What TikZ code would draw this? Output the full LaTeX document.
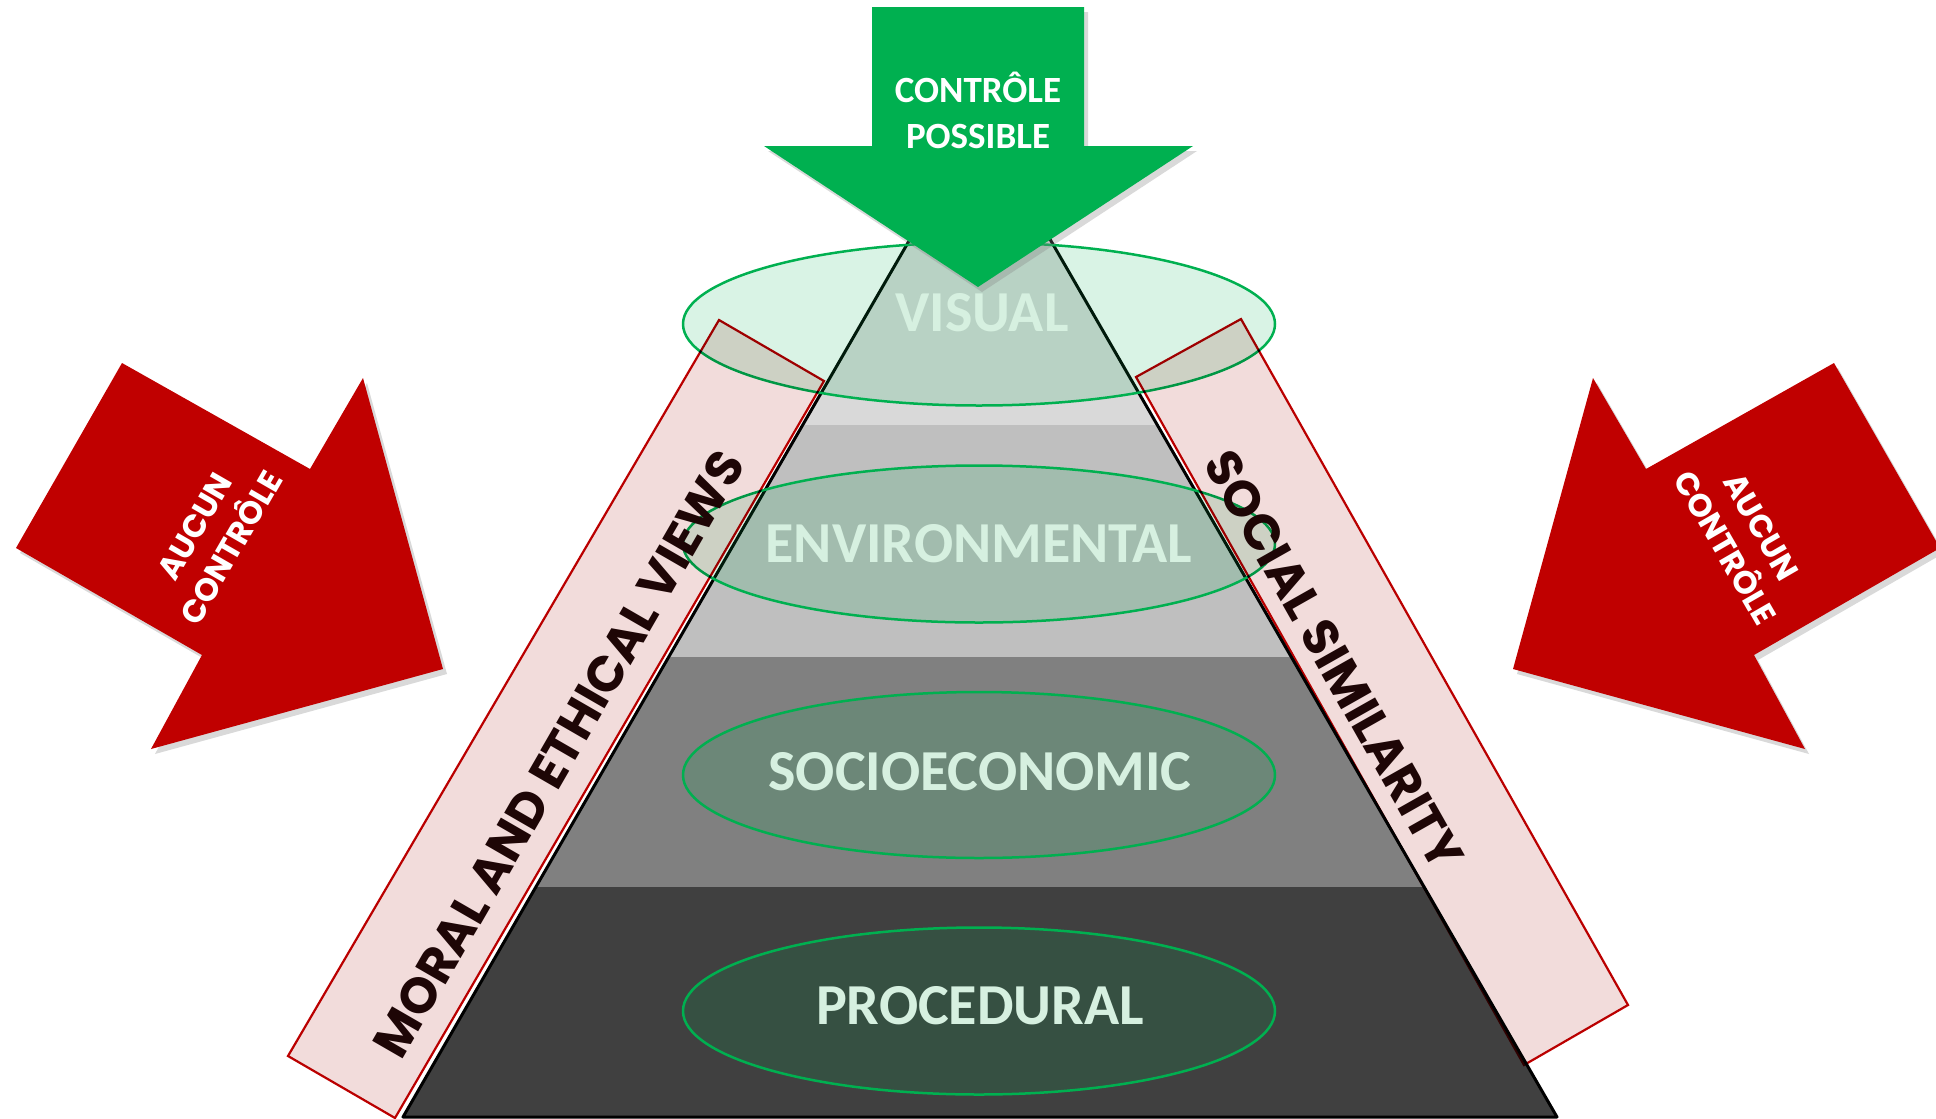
\documentclass[tikz,border=0pt]{standalone}
\usepackage{fontspec}
\setmainfont{Carlito}
\newfontfamily\geofont{Poppins}
\usetikzlibrary{calc, shadows, shapes.geometric}

\definecolor{possgreen}{RGB}{0,176,80}
\definecolor{nored}{RGB}{192,0,0}
\definecolor{boxpink}{RGB}{242,220,219}
\definecolor{mint}{RGB}{214,240,224}
\definecolor{ink}{RGB}{30,6,6}

\begin{document}
\begin{tikzpicture}[x=1pt, y=-1pt,
    zone/.style={ellipse, draw=possgreen, line width=2.5pt, fill=possgreen, fill opacity=0.15, minimum width=592pt, minimum height=163pt, inner sep=0pt},
    level/.style={text=mint, font=\fontsize{58}{60}\selectfont\bfseries, inner sep=0pt},
    sidebox/.style={draw=nored, line width=2.2pt, fill=boxpink},
    sidetext/.style={text=ink, font=\geofont\fontsize{50}{52}\selectfont\bfseries, inner sep=0pt},
    noarrow/.style={fill=nored, drop shadow={shadow xshift=4pt, shadow yshift=-5pt, opacity=0.3}},
    notext/.style={text=white, align=center, font=\geofont\fontsize{32}{42}\selectfont\bfseries, inner sep=0pt},
    yesarrow/.style={fill=possgreen, drop shadow={shadow xshift=4pt, shadow yshift=-5pt, opacity=0.3}},
    yestext/.style={text=white, align=center, font=\fontsize{37}{46}\selectfont\bfseries, inner sep=0pt}]

    \useasboundingbox (0,0) rectangle (1936,1119);

    \fill[noarrow] (122,363) -- (310,469) -- (363,378) -- (443,669) -- (151,749) -- (202,655) -- (16,548) -- cycle;
    \fill[noarrow] (1834,363) -- (1646,469) -- (1593,378) -- (1513,669) -- (1805,749) -- (1754,655) -- (1940,548) -- cycle;
    \node[notext, rotate=60] (noleft) at (213,537) {AUCUN\\CONTRÔLE};
    \node[notext, rotate=-60] (noright) at (1743,537) {AUCUN\\CONTRÔLE};

    \coordinate (apex) at (980,118);
    \coordinate (bl) at (403,1117);
    \coordinate (br) at (1557,1117);
    \begin{scope}
        \clip (apex) -- (bl) -- (br) -- cycle;
        \fill[black!15] (380,100) rectangle (1580,425);
        \fill[black!25] (380,425) rectangle (1580,657);
        \fill[black!50] (380,657) rectangle (1580,887);
        \fill[black!75] (380,887) rectangle (1580,1120);
    \end{scope}
    \draw[line width=3pt, line join=round] (apex) -- (bl) -- (br) -- cycle;

    \node[zone] (visualzone) at (979,324) {};
    \node[zone, minimum height=157pt] (envzone) at (979,544) {};
    \node[zone, minimum height=166pt] (sociozone) at (979,775) {};
    \node[zone, minimum height=167pt] (proczone) at (979,1011) {};

    \node[level] (visual) at (982,313) {VISUAL};
    \node[level] (env) at (979,544) {ENVIRONMENTAL};
    \node[level] (socio) at (980,772) {SOCIOECONOMIC};
    \node[level] (proc) at (980,1006) {PROCEDURAL};

    \begin{scope}[blend mode=multiply]
        \draw[sidebox] (719,320) -- (824,381) -- (395,1118) -- (288,1056) -- cycle;
        \draw[sidebox] (1241,319) -- (1136,377) -- (1524,1065) -- (1628,1005) -- cycle;
    \end{scope}
    \node[sidetext, rotate=60] (moral) at (559,754) {MORAL AND ETHICAL VIEWS};
    \node[sidetext, rotate=-60.5] (social) at (1334,660) {SOCIAL SIMILARITY};

    \fill[yesarrow] (872,7) -- (1084,7) -- (1084,146) -- (1193,146) -- (978,287) -- (764,146) -- (872,146) -- cycle;
    \node[yestext] (possible) at (978,110) {CONTRÔLE\\POSSIBLE};
\end{tikzpicture}
\end{document}
